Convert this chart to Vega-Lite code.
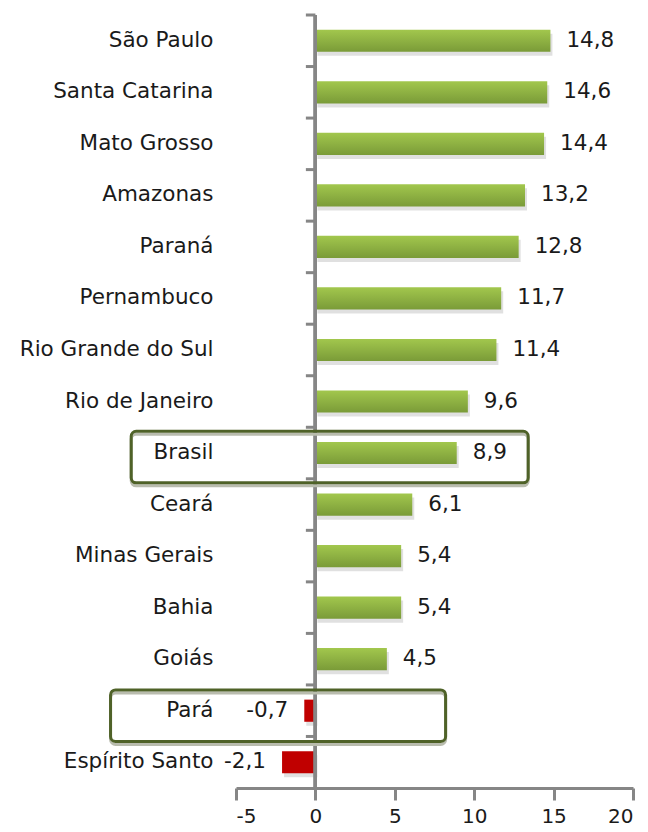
{
  "$schema": "https://vega.github.io/schema/vega-lite/v6.json",
  "width": 397,
  "height": 773,
  "autosize": "none",
  "padding": {"left": 236, "top": 15, "right": 15, "bottom": 44},
  "background": "white",
  "config": {
    "view": {"stroke": null},
    "font": "DejaVu Sans",
    "locale": {"number": {"decimal": ",", "thousands": ".", "grouping": [3], "currency": ["R$", ""], "minus": "-"}},
    "axisY": {"domain": false, "ticks": false, "grid": false, "labelPadding": 23, "labelFontSize": 21.5, "labelColor": "#1a1a1a", "labelLimit": 300, "title": null},
    "axisX": {"grid": false, "domainColor": "#868686", "domainWidth": 3, "tickColor": "#868686", "tickWidth": 3, "tickSize": 12, "labelFontSize": 20, "labelColor": "#1a1a1a", "labelPadding": 6, "title": null}
  },
  "data": {"values": [
    {"state": "São Paulo", "value": 14.8},
    {"state": "Santa Catarina", "value": 14.6},
    {"state": "Mato Grosso", "value": 14.4},
    {"state": "Amazonas", "value": 13.2},
    {"state": "Paraná", "value": 12.8},
    {"state": "Pernambuco", "value": 11.7},
    {"state": "Rio Grande do Sul", "value": 11.4},
    {"state": "Rio de Janeiro", "value": 9.6},
    {"state": "Brasil", "value": 8.9},
    {"state": "Ceará", "value": 6.1},
    {"state": "Minas Gerais", "value": 5.4},
    {"state": "Bahia", "value": 5.4},
    {"state": "Goiás", "value": 4.5},
    {"state": "Pará", "value": -0.7},
    {"state": "Espírito Santo", "value": -2.1}
  ]},
  "layer": [
    {
      "mark": {"type": "bar", "height": {"band": 0.43}, "fill": "#000000", "opacity": 0.12, "yOffset": 4, "xOffset": 2},
      "encoding": {
        "y": {"field": "state", "type": "nominal", "sort": null, "scale": {"paddingInner": 0, "paddingOuter": 0}},
        "x": {"field": "value", "type": "quantitative", "scale": {"domain": [-5, 20], "nice": false}, "axis": {"values": [-5, 0, 5, 10, 15, 20]}}
      }
    },
    {
      "transform": [{"filter": "datum.value >= 0"}],
      "mark": {"type": "bar", "height": {"band": 0.43}, "fill": {"gradient": "linear", "x1": 0, "y1": 0, "x2": 0, "y2": 1, "stops": [{"offset": 0, "color": "#a2c74d"}, {"offset": 1, "color": "#7a9b38"}]}},
      "encoding": {
        "y": {"field": "state", "type": "nominal", "sort": null},
        "x": {"field": "value", "type": "quantitative"}
      }
    },
    {
      "transform": [{"filter": "datum.value < 0"}],
      "mark": {"type": "bar", "height": {"band": 0.43}, "fill": "#c00000"},
      "encoding": {
        "y": {"field": "state", "type": "nominal", "sort": null},
        "x": {"field": "value", "type": "quantitative"}
      }
    },
    {
      "mark": {"type": "rule", "stroke": "#868686", "strokeWidth": 3},
      "encoding": {"x": {"datum": 0}}
    },
    {
      "mark": {"type": "rule", "stroke": "#868686", "strokeWidth": 3},
      "encoding": {
        "y": {"field": "state", "type": "nominal", "sort": null, "bandPosition": 0},
        "x": {"datum": -0.6},
        "x2": {"datum": 0}
      }
    },
    {
      "transform": [{"filter": "datum.state === 'Brasil'"}],
      "mark": {"type": "rect", "filled": false, "stroke": "#b9bcae", "strokeWidth": 3, "cornerRadius": 5, "yOffset": 7},
      "encoding": {
        "y": {"field": "state", "type": "nominal", "sort": null},
        "x": {"datum": -11.6},
        "x2": {"datum": 13.4}
      }
    },
    {
      "transform": [{"filter": "datum.state === 'Brasil'"}],
      "mark": {"type": "rect", "filled": false, "stroke": "#4f6228", "strokeWidth": 3, "cornerRadius": 5, "yOffset": 4},
      "encoding": {
        "y": {"field": "state", "type": "nominal", "sort": null},
        "x": {"datum": -11.6},
        "x2": {"datum": 13.4}
      }
    },
    {
      "transform": [{"filter": "datum.state === 'Pará'"}],
      "mark": {"type": "rect", "filled": false, "stroke": "#b9bcae", "strokeWidth": 3, "cornerRadius": 5, "yOffset": 8},
      "encoding": {
        "y": {"field": "state", "type": "nominal", "sort": null},
        "x": {"datum": -12.9},
        "x2": {"datum": 8.2}
      }
    },
    {
      "transform": [{"filter": "datum.state === 'Pará'"}],
      "mark": {"type": "rect", "filled": false, "stroke": "#4f6228", "strokeWidth": 3, "cornerRadius": 5, "yOffset": 5},
      "encoding": {
        "y": {"field": "state", "type": "nominal", "sort": null},
        "x": {"datum": -12.9},
        "x2": {"datum": 8.2}
      }
    },
    {
      "transform": [{"filter": "datum.value >= 0"}],
      "mark": {"type": "text", "align": "left", "dx": 16, "fontSize": 21.5, "color": "#1a1a1a"},
      "encoding": {
        "y": {"field": "state", "type": "nominal", "sort": null},
        "x": {"field": "value", "type": "quantitative"},
        "text": {"field": "value", "type": "quantitative", "format": ".1f"}
      }
    },
    {
      "transform": [{"filter": "datum.value < 0"}],
      "mark": {"type": "text", "align": "right", "dx": -16, "fontSize": 21.5, "color": "#1a1a1a"},
      "encoding": {
        "y": {"field": "state", "type": "nominal", "sort": null},
        "x": {"field": "value", "type": "quantitative"},
        "text": {"field": "value", "type": "quantitative", "format": ".1f"}
      }
    }
  ]
}
